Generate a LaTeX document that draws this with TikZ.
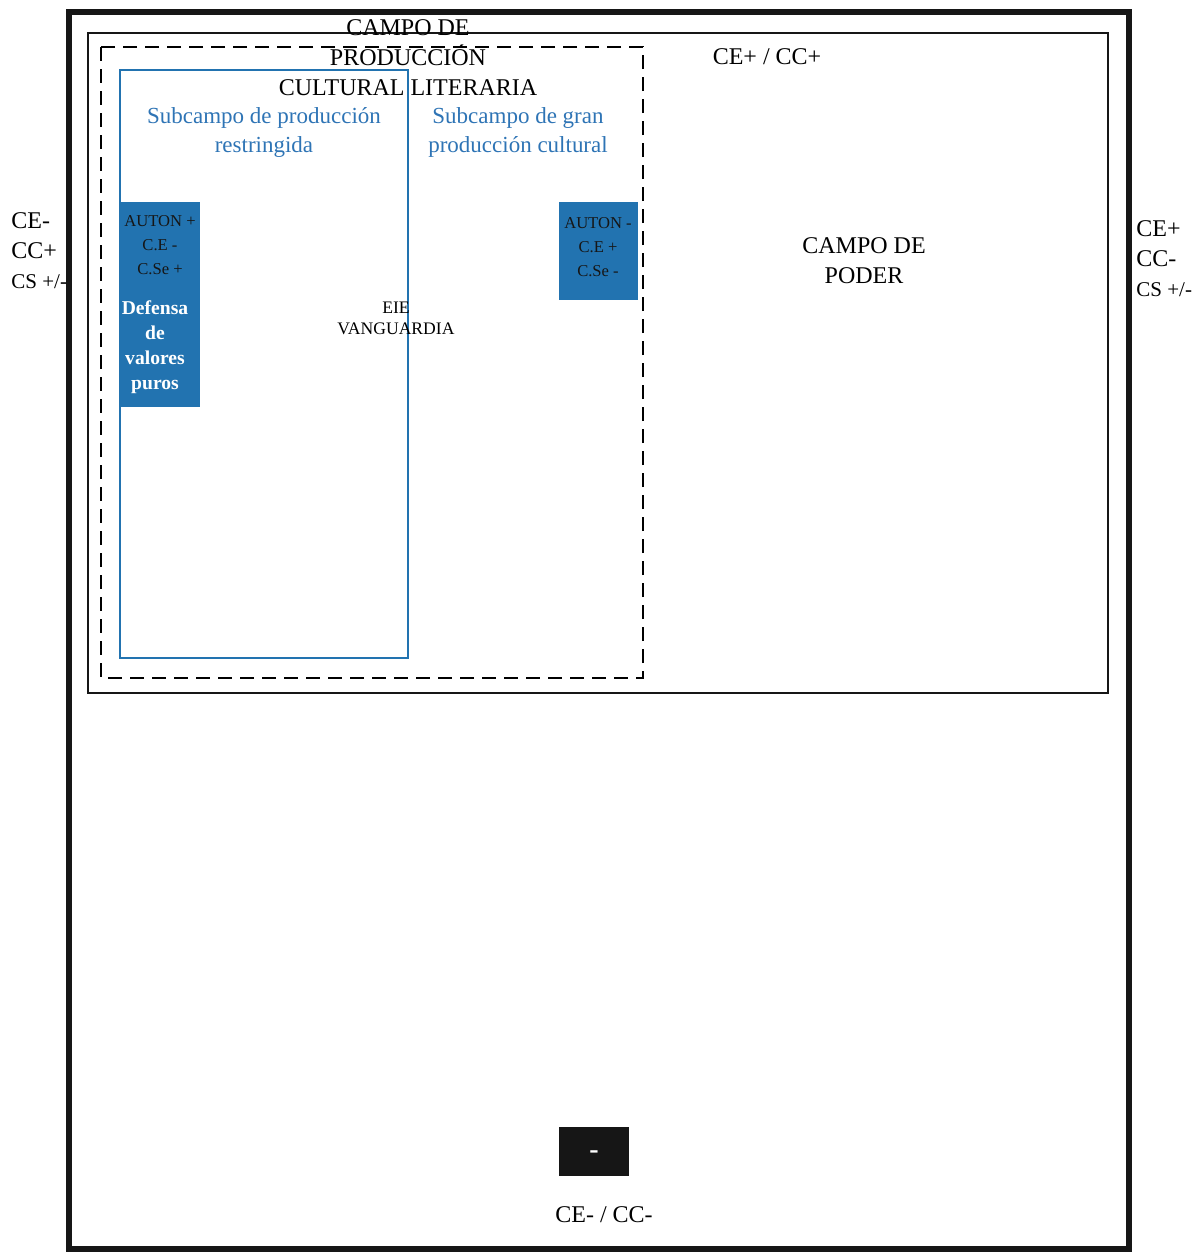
\documentclass[tikz,border=0pt]{standalone}
\usepackage{fontspec}
\setmainfont{Liberation Serif}
\definecolor{azul}{RGB}{34,115,176}
\definecolor{azultexto}{RGB}{46,116,181}
\definecolor{casinegro}{RGB}{22,22,22}
\tikzset{
  texto/.style={align=center,inner sep=0pt,font=\fontsize{12}{15}\selectfont},
  textoazul/.style={texto,text=azultexto,font=\fontsize{11.5}{14.5}\selectfont},
  textochico/.style={align=center,inner sep=0pt,font=\fontsize{8.3}{12}\selectfont,text=casinegro},
  textoblanco/.style={align=center,inner sep=0pt,font=\fontsize{9.8}{12.5}\selectfont\bfseries,text=white}
}
\begin{document}
\begin{tikzpicture}[x=0.5pt,y=-0.5pt]
\newcommand\cajaazul[4]{
\path[fill=azul] (#1,#2) rectangle (#3,#4);
}
\useasboundingbox (0,0) rectangle (1202,1253);
\path[draw,line width=3.2pt,color=casinegro] (69,12) rectangle (1129,1249);
\path[draw,line width=1.4pt,color=casinegro] (88,33) rectangle (1108,693);
\path[draw,line width=1.3pt,dash pattern=on 7pt off 4pt] (101,47) rectangle (643,678);
\path[draw,line width=0.8pt,color=azul] (120,70) rectangle (408,658);
\cajaazul{120}{202}{200}{407}
\cajaazul{559}{202}{638}{300}
\path[fill=casinegro] (559,1127) rectangle (629,1176);
\node[texto] (campoprod) at (408,58) {CAMPO DE\\PRODUCCIÓN\\CULTURAL LITERARIA};
\node[textoazul] (restringida) at (264,132) {Subcampo de producción\\restringida};
\node[textoazul] (gran) at (518,132) {Subcampo de gran\\producción cultural};
\node[texto] (arriba) at (767,57) {CE+ / CC+};
\node[texto] (poder) at (864,261) {CAMPO DE\\PODER};
\node[texto,align=left,anchor=north west] (izq) at (11,212) {CE-\\CC+\\{\fontsize{10.5}{12}\selectfont CS +/-}};
\node[texto,align=left,anchor=north west] (der) at (1136,220) {CE+\\CC-\\{\fontsize{10.5}{12}\selectfont CS +/-}};
\node[align=center,inner sep=0pt,font=\fontsize{8.8}{10.5}\selectfont] (eie) at (396,318) {EIE\\VANGUARDIA};
\node[textochico] (autonmas) at (160,245) {AUTON +\\C.E -\\C.Se +};
\node[textoblanco] (defensa) at (155,347) {Defensa\\de\\valores\\puros};
\node[textochico] (autonmenos) at (598,247) {AUTON -\\C.E +\\C.Se -};
\node[texto,text=white,font=\fontsize{14}{15}\selectfont\bfseries] (menos) at (594,1155) {-};
\node[texto] (abajo) at (604,1215) {CE- / CC-};
\end{tikzpicture}
\end{document}
